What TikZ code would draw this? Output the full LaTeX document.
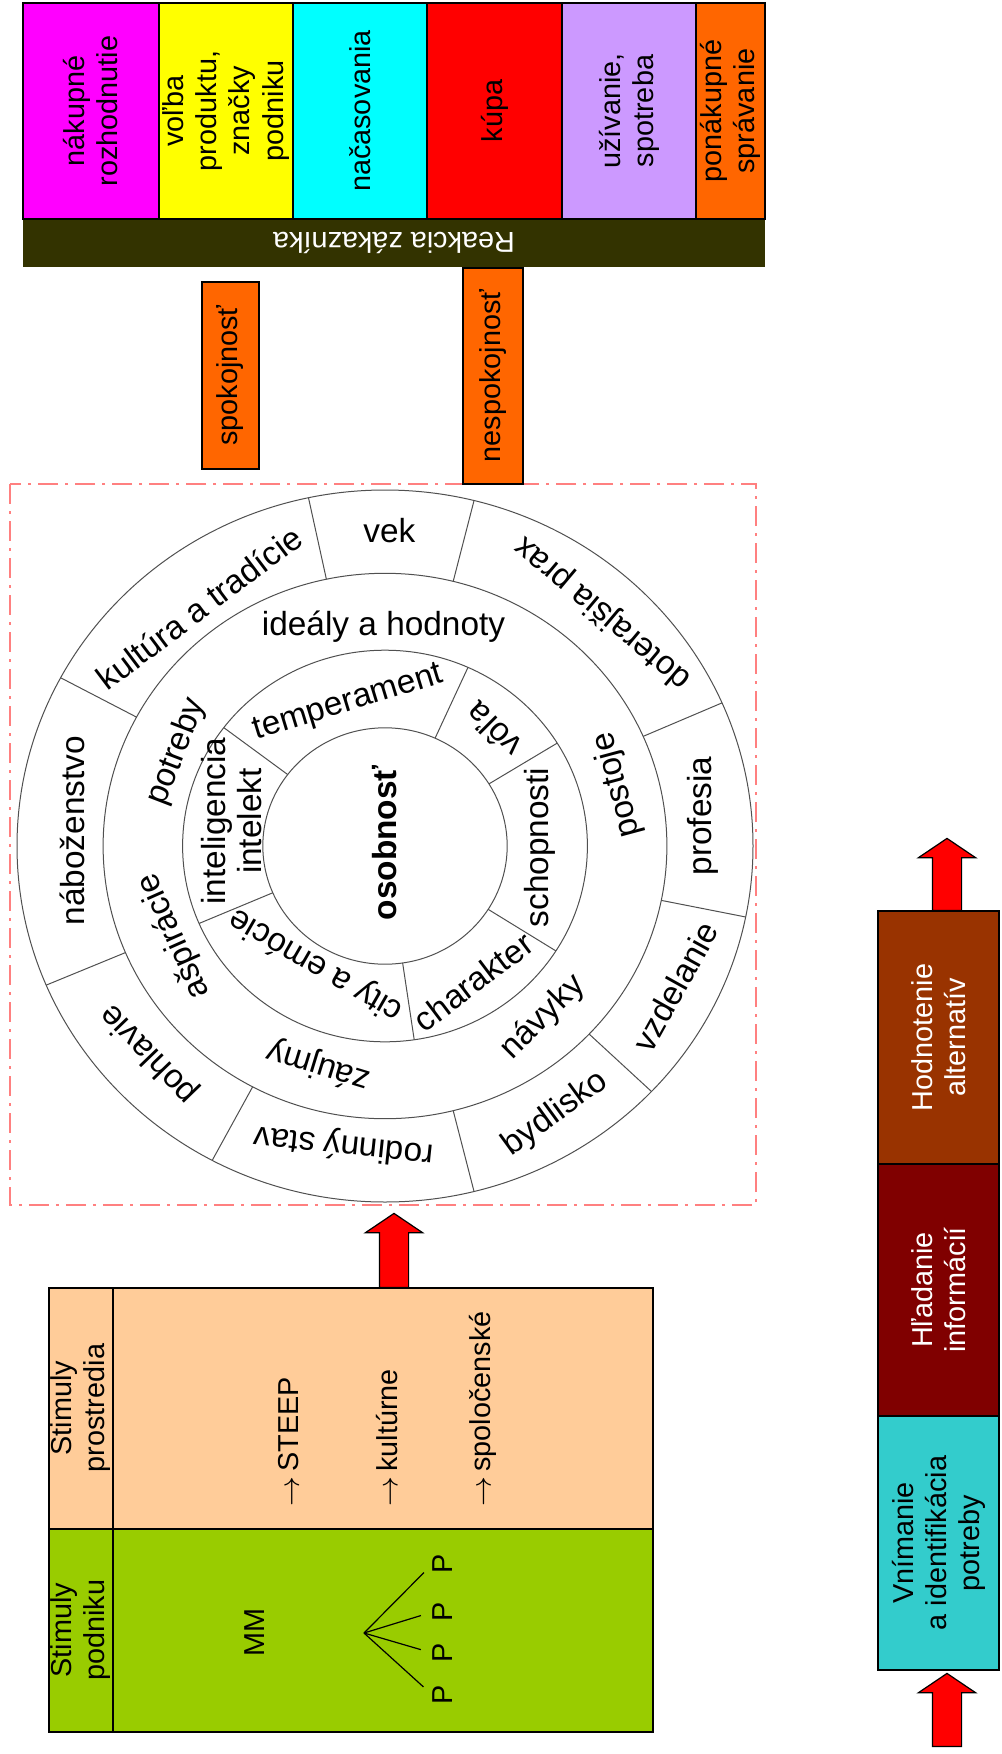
\documentclass[tikz,border=0pt]{standalone}
\usepackage{fontspec}
\setmainfont{Liberation Sans}
\usetikzlibrary{shapes.arrows}
\definecolor{vmagenta}{HTML}{FF00FF}
\definecolor{vyellow}{HTML}{FFFF00}
\definecolor{vcyan}{HTML}{00FFFF}
\definecolor{vred}{HTML}{FF0000}
\definecolor{vlilac}{HTML}{CC99FF}
\definecolor{vorange}{HTML}{FF6600}
\definecolor{barolive}{HTML}{333300}
\definecolor{peach}{HTML}{FFCC99}
\definecolor{leaf}{HTML}{99CC00}
\definecolor{vteal}{HTML}{33CCCC}
\definecolor{vmaroon}{HTML}{800000}
\definecolor{vrust}{HTML}{993300}
\definecolor{dashpink}{HTML}{FF8080}
\definecolor{ringgray}{HTML}{505050}
\newcommand\boxfont{\fontsize{8.2}{9.4}\selectfont}
\newcommand\ringfont{\fontsize{9.5}{10.4}\selectfont}

\begin{document}
\begin{tikzpicture}[x=0.1mm,y=-0.1mm,
  cell/.style={draw=black,line width=0.13mm},
  vtext/.style={rotate=90,align=center,font=\boxfont,inner sep=0pt},
  ringtext/.style={align=center,font=\ringfont,inner sep=0pt},
  bigarrow/.style={single arrow,draw=black,fill=vred,line width=0.12mm,inner xsep=0pt,inner ysep=1.4mm,
    minimum width=5.6mm,single arrow head extend=1.4mm,single arrow tip angle=112,rotate=90,anchor=tail}]
\useasboundingbox (0,0) rectangle (1001,1754);

% reakcia zakaznika
\fill[barolive] (23,219) rectangle (765,267);
\node[font=\boxfont,text=white,rotate=180,inner sep=0pt] (reakcia) at (394,243) {Reakcia zákazníka};
\foreach \xa/\xb/\col/\txt [count=\i] in {23/159/vmagenta/{nákupné\\rozhodnutie},
    159/293/vyellow/{voľba\\produktu,\\značky\\podniku},293/427/vcyan/{načasovania},
    427/562/vred/{kúpa},562/696/vlilac/{užívanie,\\spotreba},696/765/vorange/{ponákupné\\správanie}}{
  \draw[cell,fill=\col] (\xa,3) rectangle (\xb,219);
  \node[vtext] (react-\i) at ({(\xa+\xb)/2},111) {\txt};
}

% osobnost
\draw[dashpink,line width=0.15mm,fill=white,dash pattern=on 2mm off 0.7mm on 0.3mm off 0.7mm] (10,484) rectangle (756,1205);
\node[vtext,cell,fill=vorange,minimum width=18.7mm,minimum height=5.7mm] (spok) at (230.5,375.5) {spokojnosť};
\node[vtext,cell,fill=vorange,minimum width=21.6mm,minimum height=6mm] (nespok) at (493,376) {nespokojnosť};
\begin{scope}[shift={(385,846)},x=36.8mm,y=35.6mm]
\foreach \r in {1,0.766,0.55,0.332}
  \draw[ringgray,line width=0.1mm] (0,0) ellipse [x radius=\r*36.8mm,y radius=\r*35.6mm];
\foreach \a in {102,76,23.7,-11.5,-43.6,-76,242,203,151.8}
  \draw[ringgray,line width=0.1mm] (\a:0.766) -- (\a:1);
\foreach \a in {142.8,65.8,31.7,-32.4,-81.7,203.3}
  \draw[ringgray,line width=0.1mm] (\a:0.332) -- (\a:0.55);
\foreach \u/\v/\rot/\txt [count=\i] in {0.012/0.885/0/vek,0.592/0.656/140/doterajšia prax,
    -0.505/0.670/37/kultúra a tradície,-0.850/0.043/90/náboženstvo,0.863/0.084/90/profesia,
    0.788/-0.395/61/vzdelanie,0.463/-0.752/36/bydlisko,-0.112/-0.840/174/rodinný stav,
    -0.640/-0.584/134/pohlavie,-0.004/0.616/0/ideály a hodnoty,-0.566/0.265/69/potreby,
    -0.573/-0.253/114/ašpirácie,-0.18/-0.617/163/záujmy,0.429/-0.482/45/návyky,
    0.632/0.171/105/postoje,-0.099/0.40/17/temperament,0.294/0.326/135/vôľa,
    0.422/-0.004/90/schopnosti,0.24/-0.381/37/charakter,-0.187/-0.334/150/city a emócie,
    -0.417/0.07/90/{inteligencia\\intelekt}}
  \node[ringtext,rotate=\rot] (ring-\i) at (\u,\v) {\txt};
\node[ringtext,rotate=90,font=\ringfont\bfseries] (osob) at (0,0.009) {osobnosť};
\end{scope}

% stimuly
\draw[cell,fill=peach] (49,1288) rectangle (653,1529);
\draw[cell,fill=leaf] (49,1529) rectangle (653,1732);
\draw[cell] (113,1288) -- (113,1732);
\node[vtext] (prostr) at (81,1408) {Stimuly\\prostredia};
\node[vtext] (podnik) at (81,1630) {Stimuly\\podniku};
\foreach \xx/\txt [count=\i] in {289/STEEP,387/kultúrne,483/spoločenské}
  \node[vtext,anchor=west] (env-\i) at (\xx,1507) {$\rightarrow$\,\txt};
\node[vtext] (mm) at (255,1632) {MM};
\coordinate (fan) at (364,1633);
\foreach \yy [count=\i] in {1564,1612,1653,1695}{
  \node[vtext] (p-\i) at (443,\yy) {P};
  \draw[line width=0.12mm,shorten >=1.2mm] (fan) -- (p-\i.north);
}
\coordinate (stimtop) at (394,1288);
\node[bigarrow,minimum height=7.4mm] (toring) at (stimtop) {};

% proces
\foreach \ya/\yb/\col/\tcol/\txt [count=\i] in {911/1164/vrust/white/{Hodnotenie\\alternatív},
    1164/1416/vmaroon/white/{Hľadanie\\informácií},1416/1670/vteal/black/{Vnímanie\\a identifikácia\\potreby}}{
  \draw[cell,fill=\col] (878,\ya) rectangle (999,\yb);
  \node[vtext,text=\tcol] (step-\i) at (938.5,{(\ya+\yb)/2}) {\txt};
}
\node[bigarrow,minimum height=7.3mm] (inarrow) at (947,1747) {};
\node[bigarrow,minimum height=7.2mm] (outarrow) at (947,911) {};
\end{tikzpicture}
\end{document}
